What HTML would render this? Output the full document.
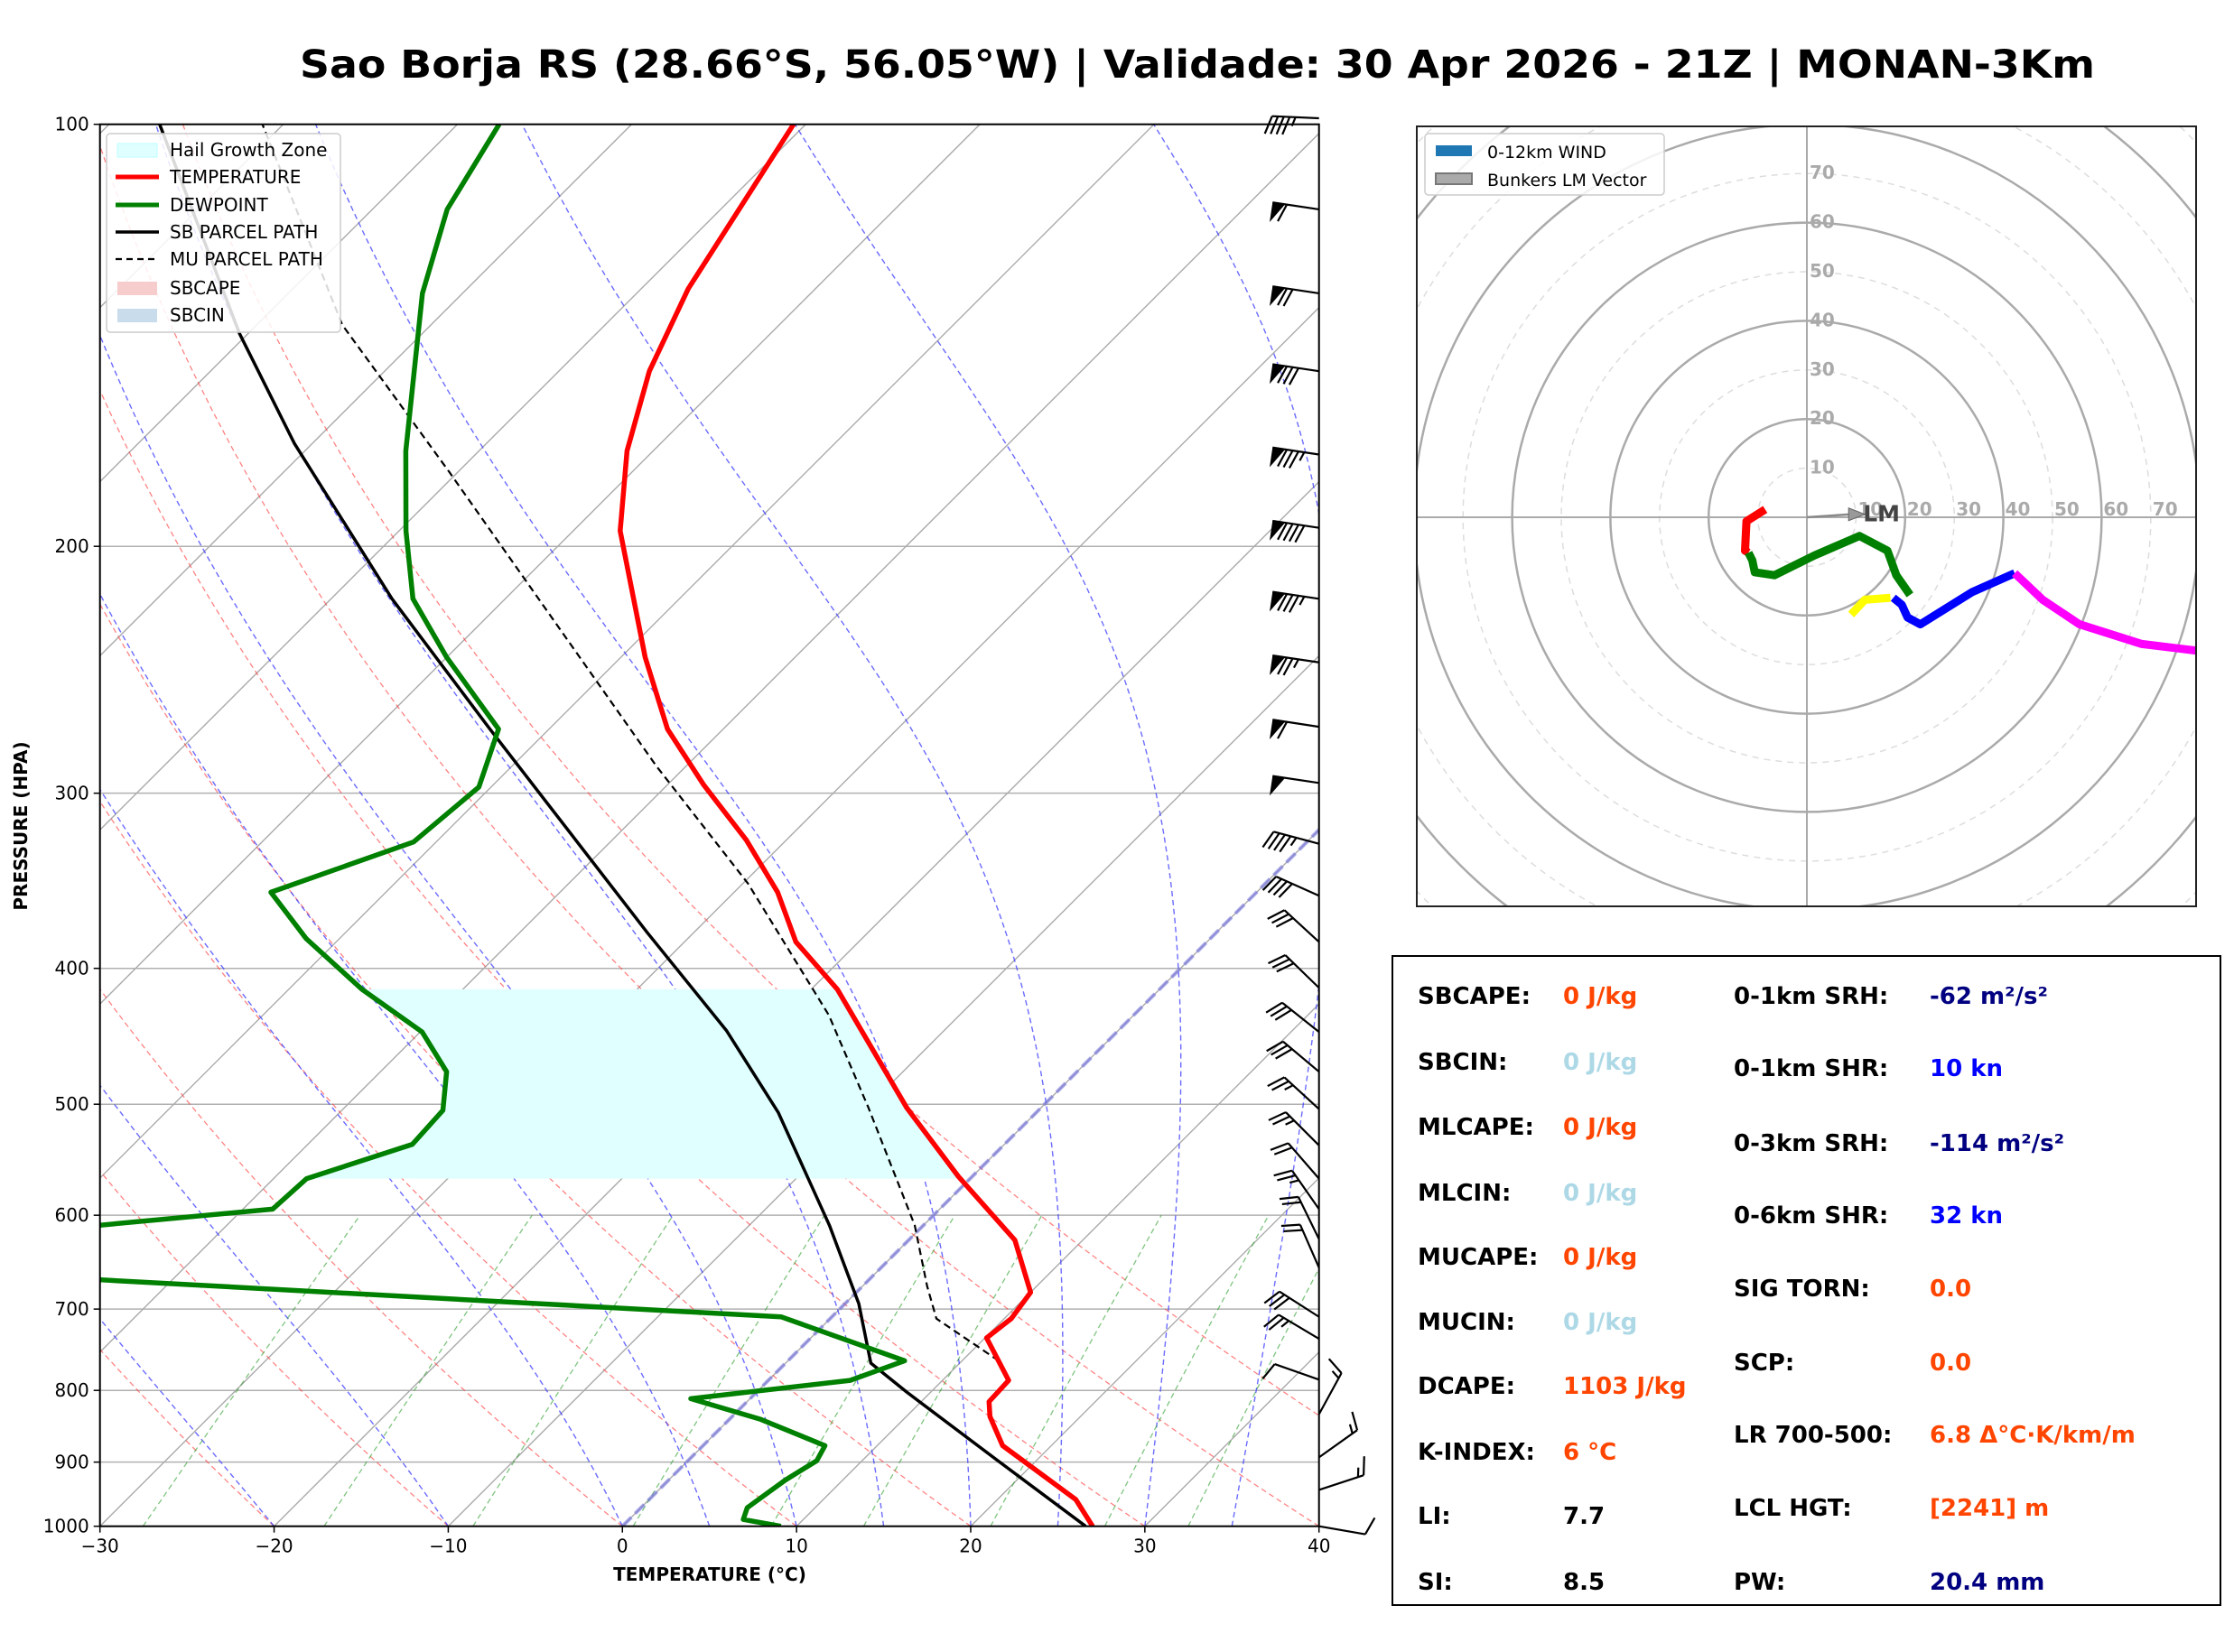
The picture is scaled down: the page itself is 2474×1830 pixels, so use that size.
<!DOCTYPE html>
<html><head><meta charset="utf-8"><style>
html,body{margin:0;padding:0;background:#fff}
svg{display:block;font-family:"DejaVu Sans","Liberation Sans",sans-serif}
</style></head><body>
<svg id="svg" width="2474" height="1830" viewBox="0 0 2474 1830" xmlns="http://www.w3.org/2000/svg">
<rect width="2474" height="1830" fill="#fff"/>
<text x="1326" y="86" text-anchor="middle" font-size="43" font-weight="bold" textLength="1988" lengthAdjust="spacingAndGlyphs">Sao Borja RS (28.66°S, 56.05°W) | Validade: 30 Apr 2026 - 21Z | MONAN-3Km</text>
<defs>
<clipPath id="skclip"><rect x="110.7" y="137.7" width="1350" height="1553"/></clipPath>
<clipPath id="hodoclip"><rect x="1569" y="140" width="863" height="864"/></clipPath>
</defs>
<g id="skewt">
<g id="bg" clip-path="url(#skclip)"></g>
<g id="series" clip-path="url(#skclip)"></g>
<rect x="110.7" y="137.7" width="1350" height="1553" fill="none" stroke="#000" stroke-width="2"/>
<g id="ticks"></g>
<g id="barbs"></g>
<text x="786" y="1751" text-anchor="middle" font-size="20" font-weight="bold">TEMPERATURE (°C)</text>
<text transform="translate(30,915) rotate(-90)" text-anchor="middle" font-size="20" font-weight="bold">PRESSURE (HPA)</text>
<g>
<rect x="118" y="148" width="259" height="220" rx="4" fill="#fff" fill-opacity="0.85" stroke="#ccc" stroke-width="1.5"/>
<rect x="130" y="159" width="44" height="15" fill="#e0ffff" stroke="#bff"/>
<text x="188" y="173" font-size="20">Hail Growth Zone</text>
<line x1="128" y1="196" x2="176" y2="196" stroke="red" stroke-width="5"/>
<text x="188" y="203" font-size="20">TEMPERATURE</text>
<line x1="128" y1="227" x2="176" y2="227" stroke="green" stroke-width="5"/>
<text x="188" y="234" font-size="20">DEWPOINT</text>
<line x1="128" y1="257" x2="176" y2="257" stroke="#000" stroke-width="3.5"/>
<text x="188" y="264" font-size="20">SB PARCEL PATH</text>
<line x1="128" y1="287" x2="176" y2="287" stroke="#000" stroke-width="2.2" stroke-dasharray="7,5"/>
<text x="188" y="294" font-size="20">MU PARCEL PATH</text>
<rect x="130" y="312" width="44" height="15" fill="#f7cccc"/>
<text x="188" y="326" font-size="20">SBCAPE</text>
<rect x="130" y="342" width="44" height="15" fill="#c9dcec"/>
<text x="188" y="356" font-size="20">SBCIN</text>
</g>
</g>
<g id="hodo">
<g id="hodobg" clip-path="url(#hodoclip)"></g>
<g id="hodoseries" clip-path="url(#hodoclip)"></g>
<rect x="1569" y="140" width="863" height="864" fill="none" stroke="#222" stroke-width="2"/>
<g>
<rect x="1578" y="148" width="265" height="68" rx="4" fill="#fff" fill-opacity="0.85" stroke="#ccc" stroke-width="1.5"/>
<rect x="1590" y="161" width="40" height="12" fill="#1f77b4"/>
<text x="1647" y="175" font-size="19">0-12km WIND</text>
<rect x="1590" y="192" width="40" height="12" fill="#aaa" stroke="#777" stroke-width="2"/>
<text x="1647" y="206" font-size="19">Bunkers LM Vector</text>
</g>
</g>
<g font-size="26" font-weight="bold">
<rect x="1542" y="1059" width="917" height="719" fill="#fff" stroke="#000" stroke-width="2"/>
<g id="stats"></g>
</g>
</svg>
<script>
var NS='http://www.w3.org/2000/svg';
function mk(tag,attrs,parent){var e=document.createElementNS(NS,tag);for(var k in attrs)e.setAttribute(k,attrs[k]);parent.appendChild(e);return e;}
// ---------- Skew-T data ----------
var tempP=[1000,957,876,835,815,787,734,711,681,625,563,503,414,383,353,324,296,270,240,195,171,150,131,100];
var tempT=[27.0,24.5,17.2,14.8,13.9,13.8,10.1,10.4,10.0,6.1,-0.8,-7.7,-18.5,-23.6,-27.5,-32.3,-37.9,-43.2,-48.6,-57.3,-61.5,-64.8,-67.3,-70.7];
var dewP=[1000,989,970,927,898,876,839,811,787,762,709,651,636,594,565,534,505,474,444,414,381,353,325,297,270,240,218,195,171,150,132,115,100];
var dewT=[9.1,6.55,6.1,6.7,7.4,7.0,1.8,-3.4,4.7,6.7,-2.9,-60.7,-61.6,-38.3,-38.1,-34.0,-34.2,-36.2,-39.9,-45.8,-51.9,-56.6,-51.3,-50.7,-52.9,-60.0,-65.3,-69.6,-74.2,-78.3,-82.3,-85.7,-87.6];
var sbP=[1000,898,802,765,694,610,507,443,377,270,218,169,141,100];
var sbT=[26.6,17.8,8.6,4.9,0.8,-5.4,-14.8,-22.5,-32.7,-53.4,-66.5,-81.0,-90.5,-107.1];
var muP=[762,711,674,610,503,432,348,287,177,139,100];
var muT=[12.1,6.1,3.7,-0.5,-9.9,-17.5,-29.7,-41.7,-70.5,-85.1,-101.2];
var hailTop=414, hailBot=565;
var pTicks=[100,200,300,400,500,600,700,800,900,1000];
var tTicks=[-30,-20,-10,0,10,20,30,40];
var tTickLabels=['\u221230','\u221220','\u221210','0','10','20','30','40'];
var barbP=[100,115,132,150,172,194,218,242,269,295,326,355,383,413,444,474,504,535,565,594,624,654,709,735,786,832,893,942,1000];
var barbU=[45,59.3,69.2,79.1,84,89,84,74,59,49.5,43.5,36.5,22.1,21.5,23.5,23,18.4,17.7,13.1,14.3,8.8,8,25.3,21.5,9.4,-7.2,-12.2,-14.3,-9.8];
var barbV=[-2,-8.9,-10.4,-11.9,-12.6,-13.3,-12.6,-11,-9,-7.4,-11.6,-16.3,-20.3,-20.9,-18.7,-19.3,-16.9,-17.7,-15.1,-20.5,-18,-18.3,-16.2,-12.8,-3.3,-13.2,-8.7,-4.7,1.7];
// ---------- Hodograph data ----------
var redU=[-8.5,-12.3,-12.6,-11.9], redV=[1.6,-0.8,-6.8,-7.2];
var greenU=[-11.9,-11.1,-10.6,-6.6,1.5,10.7,16.4,18.2,21], greenV=[-7.2,-8.8,-11.2,-11.8,-7.8,-3.8,-6.8,-11.8,-15.8];
var yellowU=[9,11.8,17], yellowV=[-19.8,-16.8,-16.4];
var blueU=[17.6,19.3,20.5,23.1,33.7,42.3], blueV=[-16.4,-17.8,-20.4,-21.8,-15.2,-11.4];
var magU=[42.3,48,55.5,68.2,79.7,90], magV=[-11.4,-16.8,-21.8,-25.8,-27.2,-28];
var lmU=10.7, lmV=0.6;
var ringLabels=[10,20,30,40,50,60,70];

var X0=110.7,X1=1460.7,YB=1690.7,YT=137.7,PX=(X1-X0)/70;
function yOf(p){return YB-Math.log10(1000/p)*(YB-YT);}
function xOf(T,p){return X0+(T+30)*PX+(YB-yOf(p));}
function pts(P,T){var s=[];for(var i=0;i<P.length;i++)s.push(xOf(T[i],P[i]).toFixed(1)+','+yOf(P[i]).toFixed(1));return s.join(' ');}

var bg=document.getElementById('bg');
pTicks.forEach(function(p){var l=mk('line',{x1:X0,x2:X1,y1:yOf(p),y2:yOf(p),stroke:'#b0b0b0','stroke-width':1.5},bg);

});
for(var T=-170;T<=40;T+=10){var l=mk('line',{x1:xOf(T,1000),y1:YB,x2:xOf(T,100),y2:YT,stroke:'#aaa','stroke-width':1.4},bg);

}
for(var th=-30;th<=50;th+=10){var s=[];for(var p=1000;p>=100;p-=10){var t=(th+273.15)*Math.pow(p/1000,0.2857)-273.15;s.push(xOf(t,p).toFixed(1)+','+yOf(p).toFixed(1));}
var l=mk('polyline',{points:s.join(' '),fill:'none',stroke:'#ff3030','stroke-opacity':0.6,'stroke-width':1.3,'stroke-dasharray':'6,4'},bg);

}
function es(t){return 6.112*Math.exp(17.67*t/(t+243.5));}
[-20,-10,0,5,10,15,20,25,30,35].forEach(function(t0){var t=t0,s=[];for(var p=1000;p>=100;p-=5){s.push(xOf(t,p).toFixed(1)+','+yOf(p).toFixed(1));var Tk=t+273.15,e=es(t),rs=0.622*e/(p-e);
var d=(287.04*Tk+2.501e6*rs)/(1005.7+2.501e6*2.501e6*rs*0.622/(287.04*Tk*Tk))/p;t-=d*5;}
var l=mk('polyline',{points:s.join(' '),fill:'none',stroke:'#3a3aff','stroke-opacity':0.75,'stroke-width':1.4,'stroke-dasharray':'6,4'},bg);

});
[0.0004,0.001,0.002,0.004,0.007,0.01,0.016,0.024,0.032].forEach(function(w){var s=[];for(var p=1000;p>=600;p-=20){var e=p*w/(0.622+w),a=Math.log(e/6.112),td=243.5*a/(17.67-a);s.push(xOf(td,p).toFixed(1)+','+yOf(p).toFixed(1));}
var l=mk('polyline',{points:s.join(' '),fill:'none',stroke:'#2a9d2a','stroke-opacity':0.6,'stroke-width':1.3,'stroke-dasharray':'6,4'},bg);

});
var z=mk('line',{x1:xOf(0,1000),y1:YB,x2:xOf(0,100),y2:YT,stroke:'#7070e0','stroke-opacity':0.6,'stroke-width':4,'stroke-dasharray':'14,6'},bg);



function interp(P,T,p){for(var i=0;i<P.length-1;i++){if((P[i]>=p&&p>=P[i+1])){var f=Math.log(P[i]/p)/Math.log(P[i]/P[i+1]);return T[i]+f*(T[i+1]-T[i]);}}return T[T.length-1];}
var ser=document.getElementById('series');
var hl=[],hr=[];
for(var k=0;k<=30;k++){var p=hailBot*Math.pow(hailTop/hailBot,k/30);hl.push(xOf(interp(dewP,dewT,p),p).toFixed(1)+','+yOf(p).toFixed(1));hr.unshift(xOf(interp(tempP,tempT,p),p).toFixed(1)+','+yOf(p).toFixed(1));}
var hz=mk('polygon',{points:hl.concat(hr).join(' '),fill:'#e0ffff'},ser);



var l1=mk('polyline',{points:pts(muP,muT),fill:'none',stroke:'#000','stroke-width':2.2,'stroke-dasharray':'8,5'},ser);


var l2=mk('polyline',{points:pts(sbP,sbT),fill:'none',stroke:'#000','stroke-width':3.5,'stroke-linejoin':'round'},ser);


var l3=mk('polyline',{points:pts(dewP,dewT),fill:'none',stroke:'green','stroke-width':5.5,'stroke-linejoin':'round'},ser);


var l4=mk('polyline',{points:pts(tempP,tempT),fill:'none',stroke:'red','stroke-width':5.5,'stroke-linejoin':'round'},ser);



var tk=document.getElementById('ticks');
pTicks.forEach(function(p){var y=yOf(p);mk('line',{x1:X0-7,x2:X0,y1:y,y2:y,stroke:'#000','stroke-width':1.5},tk);
var t=mk('text',{x:X0-12,y:y+7,'text-anchor':'end','font-size':20},tk);t.textContent=String(p);

});
tTicks.forEach(function(T,i){var x=X0+(T+30)*PX;mk('line',{x1:x,x2:x,y1:YB,y2:YB+7,stroke:'#000','stroke-width':1.5},tk);
var t=mk('text',{x:x,y:YB+29,'text-anchor':'middle','font-size':20},tk);t.textContent=tTickLabels[i];

});

var bb=document.getElementById('barbs');
function barb(y,u,v){var x=X1,spd=Math.hypot(u,v);var sx=-u/spd,sy=v/spd,L=52;var tx=x+sx*L,ty=y+sy*L;
var c=Math.cos(-70*Math.PI/180),sn=Math.sin(-70*Math.PI/180);var fx=sx*c-sy*sn,fy=sx*sn+sy*c;
var qx=-sy,qy=sx; if(qy<0){qx=-qx;qy=-qy;}
var g=mk('g',{},bb);


mk('line',{x1:x,y1:y,x2:tx,y2:ty,stroke:'#000','stroke-width':2.2},g);
var r=Math.round(spd/5)*5,fl=Math.floor(r/50);r-=fl*50;var fu=Math.floor(r/10);r-=fu*10;var hf=r>=5;
var pos=0;function P(d){return [tx-sx*d,ty-sy*d];}
for(var i=0;i<fl;i++){var a=P(pos),b=P(pos+14);mk('polygon',{points:a[0]+','+a[1]+' '+(a[0]+qx*22)+','+(a[1]+qy*22)+' '+b[0]+','+b[1],fill:'#000'},g);pos+=16;}
if(fl==0&&fu==0)pos=6;
for(var i=0;i<fu;i++){var a=P(pos);mk('line',{x1:a[0],y1:a[1],x2:a[0]+fx*21,y2:a[1]+fy*21,stroke:'#000','stroke-width':2.2},g);pos+=6.5;}
if(hf){var a=P(pos);mk('line',{x1:a[0],y1:a[1],x2:a[0]+fx*10.5,y2:a[1]+fy*10.5,stroke:'#000','stroke-width':2.2},g);}}
for(var i=0;i<barbP.length;i++){var y=barbP[i]==100?131:yOf(barbP[i]);barb(y,barbU[i],barbV[i]);}

var HX=2001,HY=573,HK=5.44;
function hx(u){return HX+u*HK;} function hy(v){return HY-v*HK;}
var hb=document.getElementById('hodobg');
for(var r=10;r<=110;r+=10){var solid=(r%20==0);var c=mk('circle',{cx:HX,cy:HY,r:r*HK,fill:'none',stroke:solid?'#aaa':'#ddd','stroke-width':solid?2.5:1.5,'stroke-dasharray':solid?'none':'7,6'},hb);

}
mk('line',{x1:1569,x2:2432,y1:HY,y2:HY,stroke:'#aaa','stroke-width':2},hb);
mk('line',{x1:HX,x2:HX,y1:140,y2:1004,stroke:'#aaa','stroke-width':2},hb);
ringLabels.forEach(function(v){var t=mk('text',{x:HX+3,y:hy(v)+6,'font-size':20,fill:'#aaa','font-weight':'bold'},hb);t.textContent=String(v);


var t2=mk('text',{x:hx(v)+2,y:HY-2,'font-size':20,fill:'#aaa','font-weight':'bold'},hb);t2.textContent=String(v);

});
var hs=document.getElementById('hodoseries');
function hline(U,V,col,name){var s=[];for(var i=0;i<U.length;i++)s.push(hx(U[i]).toFixed(1)+','+hy(V[i]).toFixed(1));
var l=mk('polyline',{points:s.join(' '),fill:'none',stroke:col,'stroke-width':9,'stroke-linejoin':'round'},hs);

}
hline(redU,redV,'red','hodo-segment-0-1km');
hline(greenU,greenV,'green','hodo-segment-1-3km');
hline(yellowU,yellowV,'yellow','hodo-segment-3-6km');
hline(blueU,blueV,'blue','hodo-segment-6-9km');
hline(magU,magV,'magenta','hodo-segment-9-12km');
var lm=mk('line',{x1:HX,y1:HY,x2:hx(lmU)-10,y2:hy(lmV),stroke:'#888','stroke-width':2.5},hs);


mk('polygon',{points:(hx(lmU)-12)+','+(hy(lmV)-7)+' '+(hx(lmU)+6)+','+hy(lmV)+' '+(hx(lmU)-12)+','+(hy(lmV)+7),fill:'#999',stroke:'#666','stroke-width':1},hs);
var lt=mk('text',{x:hx(lmU)+4,y:hy(lmV)+8,'font-size':25,'font-weight':'bold',fill:'#444'},hs);lt.textContent='LM';



var st=document.getElementById('stats');
var leftRows=[['SBCAPE:','0 J/kg','#ff4500'],['SBCIN:','0 J/kg','#add8e6'],['MLCAPE:','0 J/kg','#ff4500'],['MLCIN:','0 J/kg','#add8e6'],['MUCAPE:','0 J/kg','#ff4500'],['MUCIN:','0 J/kg','#add8e6'],['DCAPE:','1103 J/kg','#ff4500'],['K-INDEX:','6 \u00b0C','#ff4500'],['LI:','7.7','#000'],['SI:','8.5','#000']];
var leftY=[1103,1176,1248,1321,1392,1464,1535,1608,1679,1752];
var rightRows=[['0-1km SRH:','-62 m\u00b2/s\u00b2','#000080'],['0-1km SHR:','10 kn','#0000ff'],['0-3km SRH:','-114 m\u00b2/s\u00b2','#000080'],['0-6km SHR:','32 kn','#0000ff'],['SIG TORN:','0.0','#ff4500'],['SCP:','0.0','#ff4500'],['LR 700-500:','6.8 \u0394\u00b0C\u00b7K/km/m','#ff4500'],['LCL HGT:','[2241] m','#ff4500'],['PW:','20.4 mm','#000080']];
var rightY=[1103,1183,1266,1346,1427,1509,1589,1670,1752];
function row(x1,x2,y,r){var a=mk('text',{x:x1,y:y+9},st);a.textContent=r[0];


var b=mk('text',{x:x2,y:y+9,fill:r[2]},st);b.textContent=r[1];

}
leftRows.forEach(function(r,i){row(1570,1731,leftY[i],r);});
rightRows.forEach(function(r,i){row(1920,2137,rightY[i],r);});
</script>
</body></html>
